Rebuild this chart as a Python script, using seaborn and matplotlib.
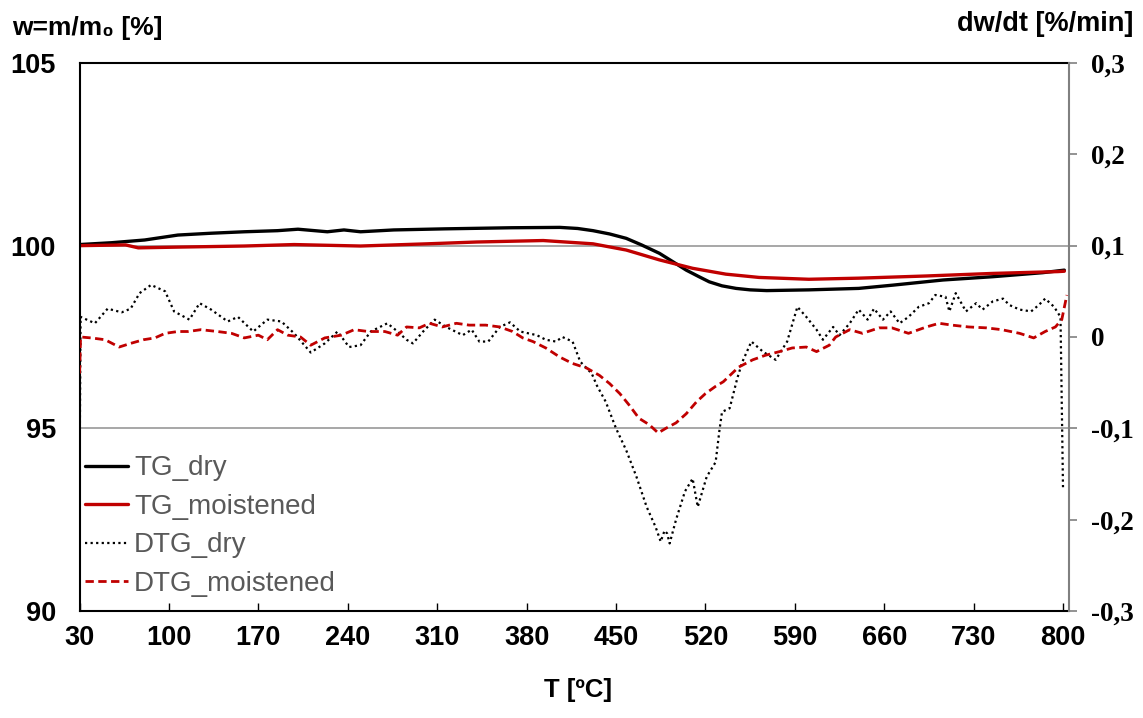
import numpy as np
import pandas as pd
import matplotlib
matplotlib.use("Agg")
import matplotlib.pyplot as plt
import seaborn as sns

# ---- data ----
tg_dry_T = [30, 55, 81, 107, 133, 159, 185, 201, 224, 237, 250, 276, 316, 368, 406, 420,
            432, 445, 458, 470, 484, 495, 505, 515, 523, 533, 544, 555, 568, 601, 640, 667,
            706, 745, 784, 801]
tg_dry_w = [100.03, 100.08, 100.155, 100.29, 100.34, 100.38, 100.41, 100.45, 100.38, 100.43,
            100.38, 100.43, 100.46, 100.49, 100.50, 100.47, 100.41, 100.32, 100.20, 100.02,
            99.79, 99.55, 99.33, 99.15, 99.01, 98.90, 98.83, 98.79, 98.77, 98.79, 98.83,
            98.92, 99.06, 99.15, 99.26, 99.33]

tg_moist_T = [30, 66, 76, 107, 159, 198, 250, 302, 341, 393, 406, 432, 458, 484, 510, 536,
              562, 601, 640, 693, 745, 796, 801]
tg_moist_w = [100.0, 100.02, 99.94, 99.96, 99.99, 100.03, 99.99, 100.05, 100.10, 100.14,
              100.11, 100.05, 99.88, 99.61, 99.38, 99.22, 99.13, 99.08, 99.11, 99.17, 99.24,
              99.29, 99.30]

dtg_dry_T = [30, 30.8, 42, 52, 63, 70, 77, 86, 97, 104, 116, 124, 133, 146, 154, 166, 177,
             188, 198, 211, 222, 232, 241, 250, 258, 271, 279, 286, 291, 299, 308, 317, 330,
             337, 343, 350, 359, 367, 375, 388, 395, 403, 408, 416, 422, 431, 435, 442, 450,
             458, 466, 474, 481, 485, 488, 490, 492, 497, 504, 510, 514, 521, 528, 531, 533,
             539, 545, 549, 556, 565, 575, 584, 592, 599, 607, 612, 620, 625, 633, 640, 647,
             652, 659, 665, 672, 679, 687, 695, 700, 708, 711, 716, 724, 732, 737, 745, 753,
             758, 766, 775, 781, 786, 793, 798, 800]
dtg_dry_v = [-0.155, 0.022, 0.015, 0.031, 0.027, 0.031, 0.048, 0.057, 0.050, 0.028, 0.019,
             0.037, 0.030, 0.017, 0.022, 0.006, 0.019, 0.017, 0.004, -0.017, -0.007, 0.006,
             -0.011, -0.009, 0.006, 0.015, 0.006, -0.003, -0.007, 0.006, 0.019, 0.011, 0.002,
             0.008, -0.005, -0.005, 0.011, 0.016, 0.006, 0.002, -0.003, -0.005, 0.000, -0.005,
             -0.027, -0.040, -0.053, -0.071, -0.100, -0.124, -0.153, -0.186, -0.208, -0.224,
             -0.212, -0.215, -0.226, -0.200, -0.169, -0.155, -0.186, -0.153, -0.137, -0.102,
             -0.082, -0.078, -0.045, -0.027, -0.005, -0.016, -0.025, -0.005, 0.033, 0.022,
             0.008, -0.003, 0.011, 0.002, 0.015, 0.030, 0.019, 0.031, 0.019, 0.028, 0.015,
             0.022, 0.033, 0.037, 0.046, 0.044, 0.028, 0.048, 0.028, 0.037, 0.030, 0.039,
             0.042, 0.035, 0.030, 0.028, 0.035, 0.042, 0.033, 0.022, -0.168]

dtg_moist_T = [30, 30.8, 39, 50, 61, 70, 80, 89, 97, 107, 115, 125, 138, 149, 159, 170, 177,
               185, 193, 203, 211, 222, 235, 245, 256, 269, 279, 286, 296, 304, 314, 325, 335,
               348, 359, 369, 377, 385, 395, 406, 416, 427, 437, 445, 453, 460, 468, 476, 483,
               489, 497, 505, 513, 520, 528, 534, 546, 557, 567, 578, 588, 599, 607, 617, 622,
               633, 643, 656, 666, 679, 693, 703, 713, 726, 740, 752, 766, 777, 786, 794, 799,
               803]
dtg_moist_v = [-0.040, 0.000, -0.001, -0.003, -0.011, -0.007, -0.003, -0.001, 0.004, 0.006,
               0.006, 0.008, 0.006, 0.004, -0.001, 0.002, -0.003, 0.008, 0.002, 0.000, -0.009,
               -0.001, 0.002, 0.008, 0.006, 0.006, 0.002, 0.011, 0.010, 0.015, 0.011, 0.015,
               0.013, 0.013, 0.011, 0.006, -0.001, -0.005, -0.012, -0.022, -0.029, -0.034,
               -0.042, -0.051, -0.062, -0.074, -0.089, -0.096, -0.105, -0.100, -0.094, -0.084,
               -0.071, -0.062, -0.054, -0.049, -0.033, -0.025, -0.020, -0.016, -0.012, -0.011,
               -0.016, -0.009, 0.000, 0.008, 0.004, 0.010, 0.010, 0.004, 0.011, 0.015, 0.013,
               0.011, 0.010, 0.008, 0.004, -0.001, 0.006, 0.011, 0.019, 0.046]

x_ticks = [30, 100, 170, 240, 310, 380, 450, 520, 590, 660, 730, 800]
left_ticks = [90, 95, 100, 105]
right_ticks = [-0.3, -0.2, -0.1, 0.0, 0.1, 0.2, 0.3]
right_labels = ["-0,3", "-0,2", "-0,1", "0", "0,1", "0,2", "0,3"]

RED = "#C00000"

# ---- figure ----
sns.set_theme(style="white")
plt.rcParams["font.family"] = ["Liberation Sans", "DejaVu Sans"]
plt.rcParams["text.color"] = "black"
plt.rcParams["xtick.color"] = "black"
plt.rcParams["ytick.color"] = "black"
plt.rcParams["xtick.labelcolor"] = "black"
plt.rcParams["ytick.labelcolor"] = "black"

fig = plt.figure(figsize=(11.43, 7.18), dpi=100)
ax = fig.add_axes([0.0696, 0.149, 0.8657, 0.7633])
ax2 = ax.twinx()

sns.lineplot(x=tg_dry_T, y=tg_dry_w, ax=ax, color="black", lw=2.4,
             label="TG_dry", legend=False, sort=False)
sns.lineplot(x=tg_moist_T, y=tg_moist_w, ax=ax, color=RED, lw=2.4,
             label="TG_moistened", legend=False, sort=False)
sns.lineplot(x=dtg_dry_T, y=dtg_dry_v, ax=ax2, color="black", lw=1.6,
             linestyle=(0, (1, 1.5)), label="DTG_dry", legend=False, sort=False)
sns.lineplot(x=dtg_moist_T, y=dtg_moist_v, ax=ax2, color=RED, lw=2.0,
             linestyle=(0, (3, 1.6)), label="DTG_moistened", legend=False, sort=False)

ax.set_xlim(30, 804.7)
ax.set_ylim(90, 105)
ax2.set_ylim(-0.3, 0.3)

ax.set_xticks(x_ticks)
ax.set_xticklabels([str(t) for t in x_ticks], fontsize=19.5, fontweight="bold", color="black")
ax.set_yticks(left_ticks)
ax.set_yticklabels([str(t) for t in left_ticks], fontsize=19.5, fontweight="bold", color="black")
ax2.set_yticks(right_ticks)
ax2.set_yticklabels(right_labels, fontsize=19.5, fontweight="bold", family="Liberation Serif",
                    color="black")

ax.tick_params(axis="x", direction="in", length=6, width=1, color="black", pad=10, bottom=True)
ax.tick_params(axis="y", length=0, pad=17, left=True)
ax2.tick_params(axis="y", direction="out", length=6, width=1.2, color="#808080", pad=10, right=True)

ax.yaxis.grid(True, color="#A0A0A0", lw=1.3)
ax.xaxis.grid(False)
ax2.grid(False)

for s in ["left", "bottom", "top"]:
    ax.spines[s].set_color("black")
    ax.spines[s].set_linewidth(1.5)
ax.spines["right"].set_visible(False)
for s in ["left", "bottom", "top"]:
    ax2.spines[s].set_visible(False)
ax2.spines["right"].set_color("#808080")
ax2.spines["right"].set_linewidth(1.5)

ax.set_xlabel("")
ax.set_ylabel("")
ax2.set_ylabel("")

fig.text(12 / 1143, 1 - 28 / 718, "w=m/m\u2080 [%]", fontsize=19, fontweight="bold",
         ha="left", va="center", color="black", family=["Liberation Sans", "DejaVu Sans"])
fig.text(1133 / 1143, 1 - 24 / 718, "dw/dt [%/min]", fontsize=19.5, fontweight="bold",
         ha="right", va="center", color="black")
fig.text(578 / 1143, 1 - 690 / 718, "T [ºC]", fontsize=18.5, fontweight="bold",
         ha="center", va="center", color="black")

h1, l1 = ax.get_legend_handles_labels()
h2, l2 = ax2.get_legend_handles_labels()
leg = ax2.legend(h1 + h2, l1 + l2, loc="lower left", bbox_to_anchor=(-0.004, 0.008),
                 frameon=False, fontsize=20, handlelength=1.55, handletextpad=0.2,
                 labelspacing=0.45, borderpad=0.15, borderaxespad=0.2)
for t in leg.get_texts():
    t.set_color("#595959")

fig.savefig("out.png", dpi=100)
